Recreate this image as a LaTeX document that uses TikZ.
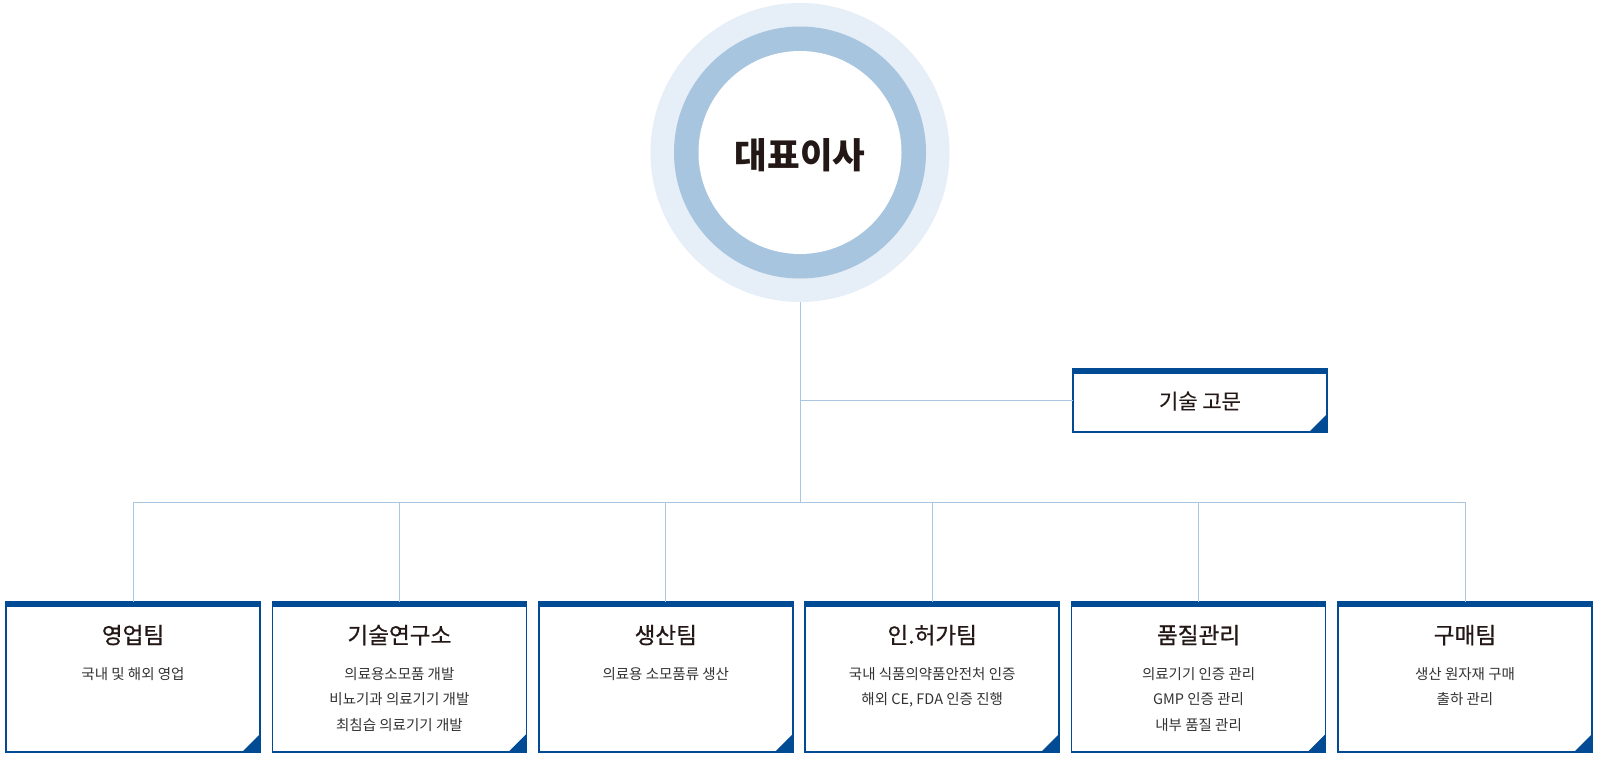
\documentclass[tikz,border=0pt]{standalone}
\usepackage{fontspec}
\setmainfont{Noto Sans CJK KR}
\definecolor{deptblue}{HTML}{004B93}
\definecolor{connblue}{HTML}{A9C6E2}
\definecolor{ringmid}{HTML}{A8C5DF}
\definecolor{ringout}{HTML}{E6EEF7}
\definecolor{ink}{HTML}{231815}
\definecolor{descink}{HTML}{333333}
\tikzset{
  deptbox/.style={rectangle, draw=deptblue, line width=1.6pt, fill=white, outer sep=0pt, inner sep=0pt,
    minimum width=254pt, minimum height=#1,
    path picture={
      \fill[deptblue] (path picture bounding box.south east) -- +(-18pt,0pt) -- +(0pt,18pt) -- cycle;
      \fill[deptblue] ([yshift=1pt]path picture bounding box.north west) rectangle ([yshift=-4.6pt]path picture bounding box.north east);
    }},
  conn/.style={draw=connblue, line width=1pt},
  ttl/.style={anchor=base, inner sep=0pt, text=ink, font={\fontsize{22.6}{26}\selectfont\addfontfeature{FakeBold=0.6}}},
  desc/.style={anchor=base, inner sep=0pt, align=center, text=descink, font={\fontsize{14.5}{25.3}\selectfont}},
}
\begin{document}
\begin{tikzpicture}[x=1pt,y=-1pt]
\useasboundingbox (0,0) rectangle (1600,756);
% CEO circles
\node[circle, fill=ringout, minimum size=299pt, inner sep=0pt, outer sep=0pt] (ceo) at (800,152.5) {};
\fill[ringmid] (ceo.center) circle (126pt);
\fill[white] (ceo.center) circle (101.5pt);
\node[anchor=base, inner sep=0pt, text=ink, font={\fontsize{35.5}{40}\selectfont\bfseries}] (ceotext) at (800,168) {대표이사};
% advisory
\node[deptbox=63pt] (adv) at (1200,400.5) {};
\node[anchor=base, inner sep=0pt, text=ink, font={\fontsize{21}{24}\selectfont\addfontfeature{FakeBold=0.3}}] (advtext) at (1200,409) {기술 고문};
% departments
\node[deptbox=150pt] (b1) at (133,677) {};
\node[deptbox=150pt] (b2) at (399.4,677) {};
\node[deptbox=150pt] (b3) at (665.8,677) {};
\node[deptbox=150pt] (b4) at (932.2,677) {};
\node[deptbox=150pt] (b5) at (1198.6,677) {};
\node[deptbox=150pt] (b6) at (1465,677) {};
% connectors
\coordinate (bus) at (800,502);
\draw[conn] (ceo.south) -- (bus);
\draw[conn] (ceo.south |- adv.west) -- (adv.west);
\draw[conn] (b1.north) |- (bus);
\draw[conn] (b6.north) |- (bus);
\draw[conn] (b2.north) -- (b2.north |- bus);
\draw[conn] (b3.north) -- (b3.north |- bus);
\draw[conn] (b4.north) -- (b4.north |- bus);
\draw[conn] (b5.north) -- (b5.north |- bus);
% titles
\node[ttl] (t1) at (133,643.5) {영업팀};
\node[ttl] (t2) at (399.4,643.5) {기술연구소};
\node[ttl] (t3) at (665.8,643.5) {생산팀};
\node[ttl] (t4) at (932.2,643.5) {인.허가팀};
\node[ttl] (t5) at (1198.6,643.5) {품질관리};
\node[ttl] (t6) at (1465,643.5) {구매팀};
% descriptions (base anchor = last line's baseline)
\node[desc] (d1) at (133,679.5) {국내 및 해외 영업};
\node[desc] (d2) at (399.4,730.1) {의료용소모품 개발\\비뇨기과 의료기기 개발\\최침습 의료기기 개발};
\node[desc] (d3) at (665.8,679.5) {의료용 소모품류 생산};
\node[desc] (d4) at (932.2,704.8) {국내 식품의약품안전처 인증\\해외 CE, FDA 인증 진행};
\node[desc] (d5) at (1198.6,730.1) {의료기기 인증 관리\\GMP 인증 관리\\내부 품질 관리};
\node[desc] (d6) at (1465,704.8) {생산 원자재 구매\\출하 관리};
\end{tikzpicture}
\end{document}
